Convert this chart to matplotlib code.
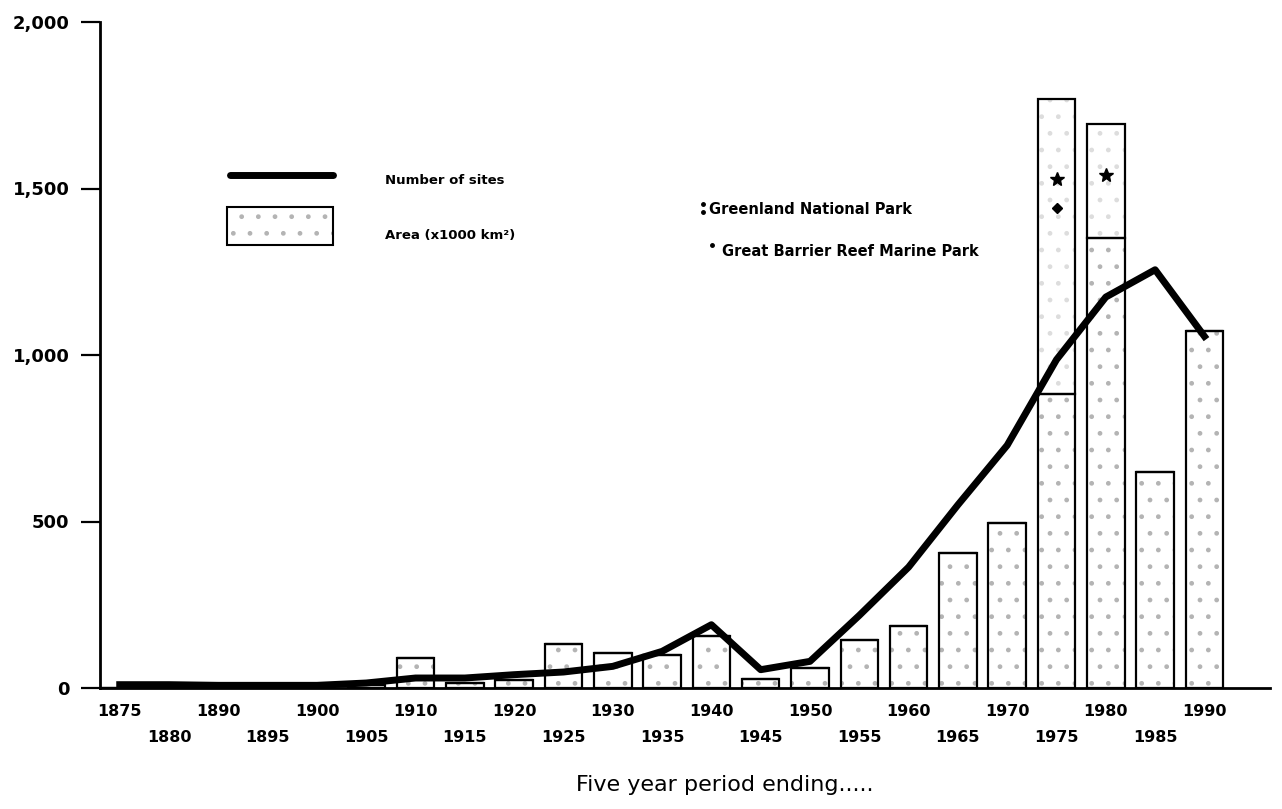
import numpy as np
import matplotlib
matplotlib.use("Agg")
import matplotlib.pyplot as plt
from matplotlib.lines import Line2D
from matplotlib.patches import Rectangle

# five year period ending (the original axis skips 1885)
periods = ['1875', '1880', '1890', '1895', '1900', '1905', '1910', '1915',
           '1920', '1925', '1930', '1935', '1940', '1945', '1950', '1955',
           '1960', '1965', '1970', '1975', '1980', '1985', '1990']

# number of sites established in the period
sites = [10, 10, 8, 8, 8, 15, 30, 30, 40, 48, 65, 110, 190, 55, 80, 218,
         363, 550, 729, 986, 1174, 1256, 1056]

# area (x1000 km2), total per period
area = [0, 0, 0, 0, 0, 10, 90, 15, 25, 133, 105, 100, 155, 27, 60, 145,
        185, 405, 496, 1770, 1694, 648, 1071]

# part of the area made up by one single park (Greenland 1975, GBR 1980)
big_park = [0] * 19 + [887, 342, 0, 0]

W, H = 1282, 809
fig = plt.figure(figsize=(W / 100, H / 100), dpi=100)


def fx(x):
    return x / W


def fy(y):
    return 1 - y / H


ax = fig.add_axes([100 / W, 1 - 688 / H, 1170 / W, 666 / H])

x = np.arange(len(periods))
rest = np.array(area) - np.array(big_park)
bw = 0.76

# stippled part of the bars
ax.bar(x, rest, width=bw, color='white', edgecolor='#b4b4b4', hatch='.',
       linewidth=0, zorder=2)
ax.bar(x, rest, width=bw, fill=False, edgecolor='black', linewidth=1.6, zorder=3)
# the single large parks sit on top, nearly blank
ax.bar(x, big_park, bottom=rest, width=bw, color='white', edgecolor='#dddddd',
       hatch='.', linewidth=0, zorder=2)
ax.bar(x, big_park, bottom=rest, width=bw, fill=False, edgecolor='black',
       linewidth=1.6, zorder=3)

ax.plot(x, sites, color='black', lw=5, solid_joinstyle='round', zorder=5)

# park markers inside the tall bars
i75 = periods.index('1975')
i80 = periods.index('1980')
ax.plot([i75], [1530], marker='*', ms=10, color='black', zorder=6)
ax.plot([i75], [1440], marker='D', ms=5.5, color='black', zorder=6)
ax.plot([i80], [1540], marker='*', ms=10, color='black', zorder=6)

ax.set_xlim(-0.4, 23.33)
ax.set_ylim(0, 2000)
ax.set_yticks([0, 500, 1000, 1500, 2000])
ax.set_yticklabels(['0', '500', '1,000', '1,500', '2,000'],
                   fontsize=13, fontweight='bold', family='DejaVu Sans')
ax.tick_params(axis='y', direction='out', length=14, width=1.6, pad=8)
ax.set_xticks([])
for s in ['top', 'right']:
    ax.spines[s].set_visible(False)
ax.spines['left'].set_linewidth(2)
ax.spines['bottom'].set_linewidth(2)

# staggered period labels
for i, lab in enumerate(periods):
    yy = -0.035 if i % 2 == 0 else -0.075
    ax.text(i, yy, lab, transform=ax.get_xaxis_transform(), ha='center',
            va='center', fontsize=11.5, fontweight='bold', family='DejaVu Sans')

fig.text(fx(725), fy(785), 'Five year period ending.....', ha='center',
         va='center', fontsize=16, family='DejaVu Sans')

# legend, drawn by hand like the original
fig.add_artist(Line2D([fx(230), fx(333)], [fy(175), fy(175)], color='black',
                      lw=5, solid_capstyle='round'))
fig.add_artist(Rectangle((fx(227), fy(245)), fx(106), 38 / H, facecolor='white',
                         edgecolor='#b4b4b4', hatch='.', lw=0,
                         transform=fig.transFigure))
fig.add_artist(Rectangle((fx(227), fy(245)), fx(106), 38 / H, fill=False,
                         edgecolor='black', lw=1.5, transform=fig.transFigure))
fig.text(fx(385), fy(181), 'Number of sites', ha='left', va='center',
         fontsize=9.5, fontweight='bold', family='DejaVu Sans')
fig.text(fx(385), fy(236), 'Area (x1000 km²)', ha='left', va='center',
         fontsize=9.5, fontweight='bold', family='DejaVu Sans')

fig.add_artist(Line2D([fx(703), fx(703)], [fy(204), fy(212)], ls='none',
                      marker='o', ms=2.5, color='black'))
fig.text(fx(709), fy(209), 'Greenland National Park', ha='left', va='center',
         fontsize=10.5, fontweight='bold', family='DejaVu Sans')
fig.add_artist(Line2D([fx(712)], [fy(245)], ls='none', marker='o', ms=2.5,
                      color='black'))
fig.text(fx(722), fy(251), 'Great Barrier Reef Marine Park', ha='left',
         va='center', fontsize=10.5, fontweight='bold', family='DejaVu Sans')

fig.savefig('out.png', dpi=100, facecolor='white')
